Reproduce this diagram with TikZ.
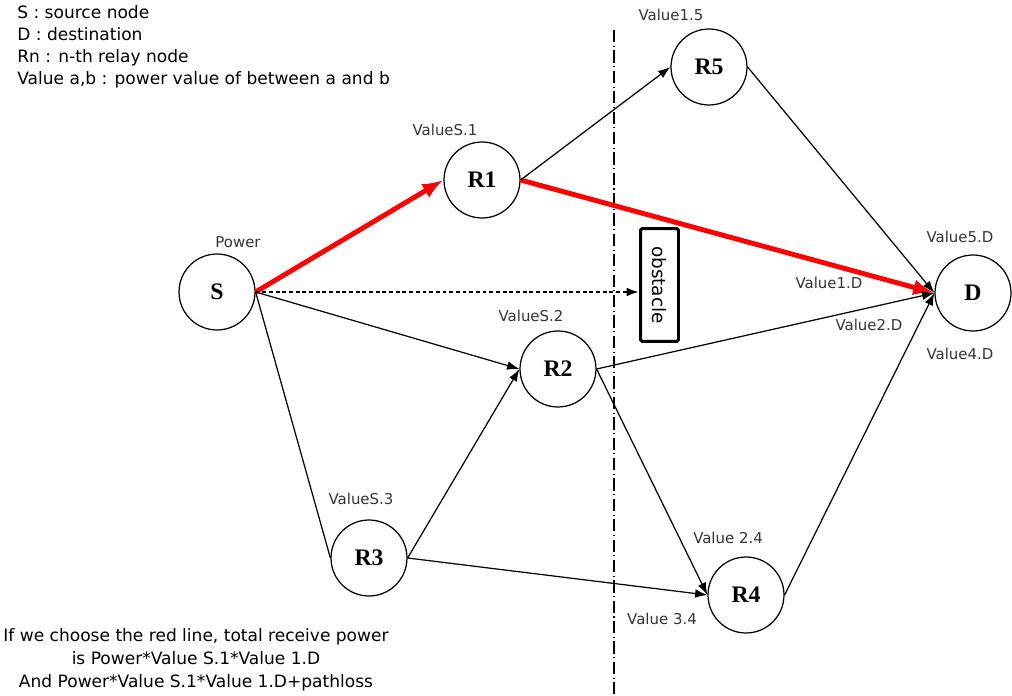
\documentclass[tikz,border=0pt]{standalone}
\usepackage{fontspec}
\setmainfont{DejaVu Sans}
\newfontfamily\serifbold{Liberation Serif}
\usetikzlibrary{arrows.meta}

\tikzset{
    relay/.style={draw, circle, line width=0.7pt, minimum size=1.52cm, inner sep=0pt,
        font=\serifbold\bfseries\fontsize{13.5}{13.5}\selectfont},
    val/.style={font=\fontsize{8.5}{10}\selectfont, text=black!80},
    link/.style={line width=0.7pt, -{Latex[length=7pt,width=5pt]}},
    redlink/.style={red, line width=2.8pt, -{Latex[length=12pt,width=9pt]}}
}

\begin{document}
\begin{tikzpicture}[x=0.02cm, y=-0.02cm]
    \useasboundingbox (0,0) rectangle (1012,696);

    \node [relay] (S) at (217,292) {S};
    \node [relay] (R1) at (482,180) {R1};
    \node [relay] (R5) at (709,67) {R5};
    \node [relay] (R2) at (558,369) {R2};
    \node [relay] (R3) at (369,558) {R3};
    \node [relay] (R4) at (746,595) {R4};
    \node [relay] (D) at (973,293) {D};
    \node [draw, line width=1.7pt, rounded corners=1pt, minimum width=0.76cm, minimum height=2.26cm, inner sep=0pt]
        (obstacle) at (659.5,285) {\fontsize{10.5}{10.5}\selectfont\rotatebox{-90}{obstacle}};

    \draw [line width=0.6pt, dash pattern=on 7pt off 2pt on 0.6pt off 2pt] (614,30) -- (614,696);

    \draw [redlink] (S.east) -- (R1.west);
    \draw [redlink] (R1.east) -- (D.west);
    \draw [link] (R1.east) -- (R5.west);
    \draw [link] (R5.east) -- (D.west);
    \draw [line width=1.2pt, dash pattern=on 2.2pt off 1.6pt, -{Latex[length=7pt,width=5pt]}]
        (S.east) -- (S.east -| obstacle.west);
    \draw [link] (S.east) -- (R2.west);
    \draw [line width=0.7pt] (S.east) -- (R3.west);
    \draw [link] (R3.east) -- (R2.west);
    \draw [link] (R3.east) -- (R4.west);
    \draw [link] (R2.east) -- (D.west);
    \draw [link] (R2.east) -- (R4.west);
    \draw [link] (R4.east) -- (D.west);

    % edge values
    \node [val] (pw) at (238,242) {Power};
    \node [val] (vs1) at (445,130) {ValueS.1};
    \node [val] (v15) at (671,15) {Value1.5};
    \node [val] (vs2) at (531,316) {ValueS.2};
    \node [val] (vs3) at (361,499) {ValueS.3};
    \node [val] (v5d) at (960,237) {Value5.D};
    \node [val] (v1d) at (829,283) {Value1.D};
    \node [val] (v2d) at (869,325) {Value2.D};
    \node [val] (v4d) at (960,354) {Value4.D};
    \node [val] (v24) at (728,538) {Value 2.4};
    \node [val] (v34) at (662,619) {Value 3.4};

    \node [anchor=north west, align=left, inner sep=0pt, font=\fontsize{9.7}{12.6}\selectfont]
        (legend) at (17,5) {S : source node\\D : destination\\Rn : n-th relay node\\Value a,b : power value of between a and b};
    \node [align=center, inner sep=0pt, font=\fontsize{9.7}{13}\selectfont]
        (note) at (196,660) {If we choose the red line, total receive power\\is Power*Value S.1*Value 1.D\\And Power*Value S.1*Value 1.D+pathloss};
\end{tikzpicture}
\end{document}
